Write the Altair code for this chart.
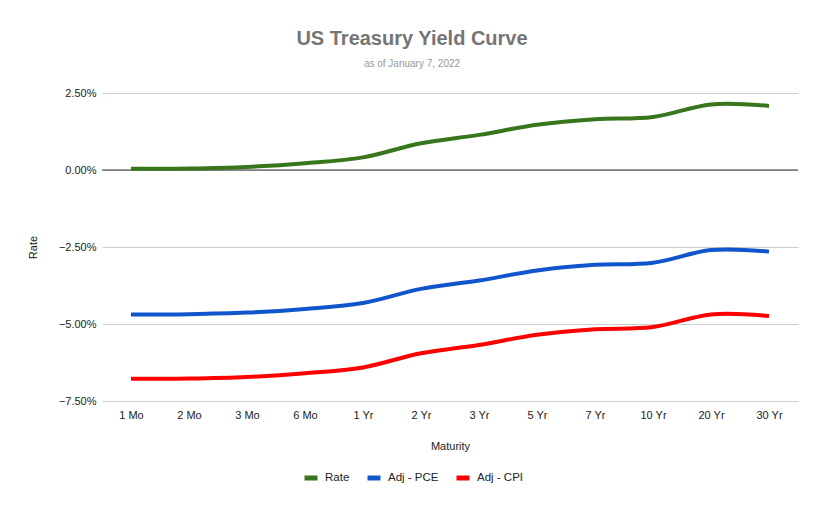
import altair as alt
import pandas as pd

maturities = ["1 Mo", "2 Mo", "3 Mo", "6 Mo", "1 Yr", "2 Yr", "3 Yr", "5 Yr", "7 Yr", "10 Yr", "20 Yr", "30 Yr"]
rate = [0.04, 0.05, 0.10, 0.22, 0.41, 0.87, 1.14, 1.47, 1.65, 1.72, 2.13, 2.08]
adj_pce = [-4.69, -4.68, -4.63, -4.51, -4.32, -3.86, -3.59, -3.26, -3.08, -3.01, -2.60, -2.65]
adj_cpi = [-6.78, -6.77, -6.72, -6.60, -6.41, -5.95, -5.68, -5.35, -5.17, -5.10, -4.69, -4.74]
series = ["Rate", "Adj - PCE", "Adj - CPI"]
colors = ["#38761d", "#1155cc", "#ff0000"]
y_ticks = [-0.075, -0.05, -0.025, 0.0, 0.025]
zero_line = [0.0]

rows = []
for name, vals in zip(series, [rate, adj_pce, adj_cpi]):
    for m, v in zip(maturities, vals):
        rows.append({"Maturity": m, "Series": name, "Value": v / 100.0})
df = pd.DataFrame(rows)

FONT = "Liberation Sans"

lines = alt.Chart(df).mark_line(strokeWidth=4, interpolate="cardinal").encode(
    x=alt.X(
        "Maturity:N",
        sort=maturities,
        scale=alt.Scale(padding=0.5),
        axis=alt.Axis(
            title="Maturity", labelAngle=0, ticks=False, domain=False, grid=False,
            labelPadding=8, titlePadding=20, labelFontSize=11, titleFontSize=11,
            titleFontWeight="normal", labelColor="#222222", titleColor="#222222",
        ),
    ),
    y=alt.Y(
        "Value:Q",
        scale=alt.Scale(domain=[-0.075, 0.025], nice=False, zero=False),
        axis=alt.Axis(
            title="Rate", format=".2%", values=y_ticks, ticks=False, domain=False,
            gridColor="#cccccc", labelPadding=6, titlePadding=20, labelFontSize=11,
            titleFontSize=11, titleFontWeight="normal", labelColor="#222222",
            titleColor="#222222",
        ),
    ),
    color=alt.Color(
        "Series:N",
        sort=series,
        scale=alt.Scale(domain=series, range=colors),
        legend=alt.Legend(
            title=None, orient="none", legendX=200, legendY=376, direction="horizontal",
            symbolType="stroke", symbolStrokeWidth=5, symbolSize=169,
            labelFontSize=11.5, labelColor="#222222", columnPadding=7, labelOffset=5,
        ),
    ),
)

zero = alt.Chart(pd.DataFrame({"y": zero_line})).mark_rule(color="#333333", strokeWidth=1).encode(
    y=alt.Y("y:Q")
)

chart = alt.layer(zero, lines).properties(
    width=696,
    height=308,
    title=alt.TitleParams(
        text="US Treasury Yield Curve",
        subtitle="as of January 7, 2022",
        fontSize=20, fontWeight="bold", color="#757575",
        subtitleFontSize=10, subtitleColor="#999999",
        anchor="middle", dx=-38, offset=18, subtitlePadding=10,
        font=FONT, subtitleFont=FONT,
    ),
    autosize=alt.AutoSizeParams(type="none"),
    padding={"left": 94, "top": 85, "right": 18, "bottom": 101},
).configure(font=FONT).configure_view(stroke=None).configure_axis(labelFont=FONT, titleFont=FONT).configure_legend(labelFont=FONT)

chart.save("out.html", embed_options={"renderer": "svg", "actions": False})
